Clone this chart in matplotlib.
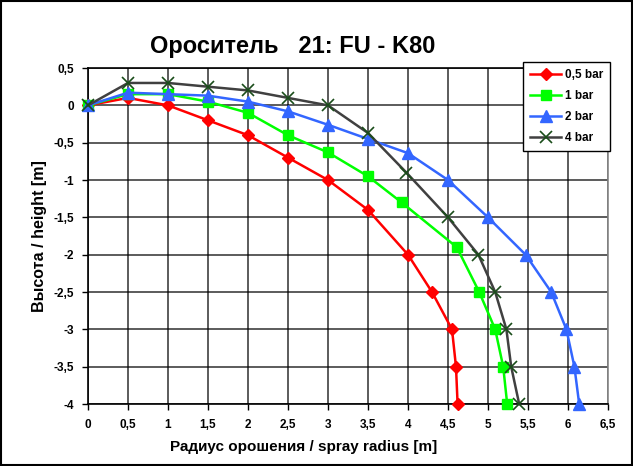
import matplotlib.pyplot as plt
from matplotlib.ticker import FuncFormatter, MultipleLocator

plt.rcParams['font.family'] = ['Liberation Sans', 'DejaVu Sans']
plt.rcParams['font.weight'] = 'bold'

# spray trajectories: radius [m] vs height [m]
x_05 = [0, 0.5, 1, 1.5, 2, 2.5, 3, 3.5, 4, 4.3, 4.55, 4.6, 4.62]
y_05 = [0, 0.1, 0, -0.2, -0.4, -0.7, -1.0, -1.4, -2.0, -2.5, -3.0, -3.5, -4.0]

x_1 = [0, 0.5, 1, 1.5, 2, 2.5, 3, 3.5, 3.92, 4.61, 4.89, 5.09, 5.19, 5.24]
y_1 = [0, 0.15, 0.15, 0.05, -0.1, -0.4, -0.63, -0.95, -1.3, -1.9, -2.5, -3.0, -3.5, -4.0]

x_2 = [0, 0.5, 1, 1.5, 2, 2.5, 3, 3.5, 4, 4.5, 5, 5.47, 5.79, 5.98, 6.08, 6.14]
y_2 = [0, 0.17, 0.15, 0.13, 0.05, -0.08, -0.26, -0.45, -0.64, -1.0, -1.5, -2.0, -2.5, -3.0, -3.5, -4.0]

x_4 = [0, 0.5, 1, 1.5, 2, 2.5, 3, 3.5, 3.98, 4.5, 4.88, 5.09, 5.23, 5.29, 5.39]
y_4 = [0, 0.3, 0.3, 0.25, 0.2, 0.1, 0.0, -0.37, -0.9, -1.5, -2.0, -2.5, -3.0, -3.5, -4.0]

fig = plt.figure(figsize=(6.33, 4.66), dpi=100)
ax = fig.add_axes([0.139, 0.133, 0.8215, 0.721])

ax.plot(x_05, y_05, color='#FF0000', lw=1.8, marker='D', ms=6, label='0,5 bar', zorder=3, clip_on=False)
ax.plot(x_1, y_1, color='#00FF00', lw=1.8, marker='s', ms=7, label='1 bar', zorder=3, clip_on=False)
ax.plot(x_2, y_2, color='#3366FF', lw=1.8, marker='^', ms=8, label='2 bar', zorder=3, clip_on=False)
ax.plot(x_4, y_4, color='#404040', lw=1.8, marker='x', ms=8, mec='#1a4d1a', mew=1.2,
        label='4 bar', zorder=4, clip_on=False)

ax.set_xlim(0, 6.5)
ax.set_ylim(-4, 0.5)
ax.xaxis.set_major_locator(MultipleLocator(0.5))
ax.yaxis.set_major_locator(MultipleLocator(0.5))

fmt = FuncFormatter(lambda v, p: ('%g' % v).replace('.', ','))
ax.xaxis.set_major_formatter(fmt)
ax.yaxis.set_major_formatter(fmt)

ax.grid(True, color='black', lw=1.2, alpha=0.75)
ax.set_axisbelow(True)
ax.tick_params(axis='x', labelsize=8.5, length=4, width=1, pad=7)
ax.tick_params(axis='y', labelsize=8.5, length=4, width=1, pad=6)
for lbl in ax.get_xticklabels() + ax.get_yticklabels():
    lbl.set_fontweight('bold')
for s in ax.spines.values():
    s.set_linewidth(1.2)
ax.spines['right'].set_color('#888888')

fig.text(0.463, 0.9, 'Ороситель   21: FU - K80', fontsize=17, fontweight='bold',
         ha='center', va='center')
ax.set_ylabel('Высота / height [m]', fontsize=11.5, fontweight='bold', labelpad=5)
fig.text(0.48, 0.041, 'Радиус орошения / spray radius [m]', fontsize=11, fontweight='bold',
         ha='center', va='center')

leg = ax.legend(loc='upper right', bbox_to_anchor=(1.015, 1.035), fontsize=8.5, frameon=True,
                fancybox=False, edgecolor='black', framealpha=1, handlelength=2.6,
                borderpad=0.6, labelspacing=0.75, handletextpad=0.3)
leg.get_frame().set_linewidth(1.0)
leg.set_zorder(10)
for t in leg.get_texts():
    t.set_fontweight('bold')

fig.patches.append(plt.Rectangle((0.002, 0.002), 0.996, 0.996, transform=fig.transFigure,
                                 fill=False, edgecolor='black', lw=1.5))

fig.savefig('out.png', dpi=100)
